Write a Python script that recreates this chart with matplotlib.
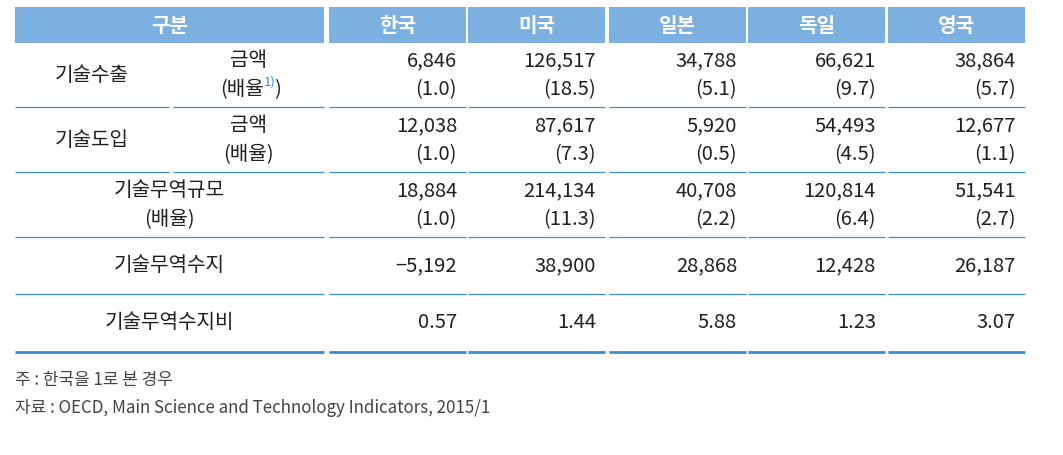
import matplotlib
matplotlib.use('Agg')
import matplotlib.pyplot as plt
from matplotlib.patches import Rectangle

plt.rcParams['font.family'] = ['Noto Sans CJK KR', 'DejaVu Sans']

# data
countries = ["한국", "미국", "일본", "독일", "영국"]
export_amt = ["6,846", "126,517", "34,788", "66,621", "38,864"]
export_ratio = ["(1.0)", "(18.5)", "(5.1)", "(9.7)", "(5.7)"]
import_amt = ["12,038", "87,617", "5,920", "54,493", "12,677"]
import_ratio = ["(1.0)", "(7.3)", "(0.5)", "(4.5)", "(1.1)"]
trade_size = ["18,884", "214,134", "40,708", "120,814", "51,541"]
trade_ratio = ["(1.0)", "(11.3)", "(2.2)", "(6.4)", "(2.7)"]
balance = ["\u22125,192", "38,900", "28,868", "12,428", "26,187"]
balance_ratio = ["0.57", "1.44", "5.88", "1.23", "3.07"]
notes = ["주 : 한국을 1로 본 경우",
         "자료 : OECD, Main Science and Technology Indicators, 2015/1"]

HEAD = "#7bb0e1"
LINE = "#3a8ed4"
TXT = "#231f20"
FS = 14.5

fig = plt.figure(figsize=(10.63, 4.55), dpi=100)
ax = fig.add_axes([0, 0, 1, 1])
ax.set_xlim(0, 1063)
ax.set_ylim(455, 0)
ax.axis('off')

# column layout (pixels)
gubun = (15, 324)
sub_left = (15, 169)
sub_right = (173, 324)
col_x0 = [329, 468, 609, 748, 888]
col_w = 137
rows = [(43, 107), (107, 172), (172, 237), (237, 294), (294, 352)]
DY = 14.5

# header
ax.add_patch(Rectangle((gubun[0], 7), gubun[1] - gubun[0], 36, color=HEAD, lw=0))
ax.text(sum(gubun) / 2, 25, "구분", color="white", fontsize=FS, fontweight="bold",
        ha="center", va="center")
for x0, c in zip(col_x0, countries):
    ax.add_patch(Rectangle((x0, 7), col_w, 36, color=HEAD, lw=0))
    ax.text(x0 + col_w / 2, 25, c, color="white", fontsize=FS, fontweight="bold",
            ha="center", va="center")

# horizontal rules
for i, (top, bot) in enumerate(rows):
    lw = 2.0 if i == len(rows) - 1 else 0.9
    if i < 2:
        ax.plot(sub_left, [bot, bot], color=LINE, lw=lw, solid_capstyle='butt')
        ax.plot(sub_right, [bot, bot], color=LINE, lw=lw, solid_capstyle='butt')
    else:
        ax.plot(gubun, [bot, bot], color=LINE, lw=lw, solid_capstyle='butt')
    for x0 in col_x0:
        ax.plot([x0, x0 + col_w], [bot, bot], color=LINE, lw=lw, solid_capstyle='butt')

def two_line(y0, y1, top_vals, bot_vals):
    c = (y0 + y1) / 2 + 0.5
    for x0, a, b in zip(col_x0, top_vals, bot_vals):
        ax.text(x0 + col_w - 9, c - DY, a, fontsize=FS, color=TXT, ha="right", va="center")
        ax.text(x0 + col_w - 9, c + DY, b, fontsize=FS, color=TXT, ha="right", va="center")

# row 1: 기술수출
c1 = sum(rows[0]) / 2 + 0.5
ax.text(sum(sub_left) / 2, c1, "기술수출", fontsize=FS, color=TXT, ha="center", va="center")
ax.text(sum(sub_right) / 2, c1 - DY, "금액", fontsize=FS, color=TXT, ha="center", va="center")
t = ax.text(sum(sub_right) / 2 - 7, c1 + DY, "(배율", fontsize=FS, color=TXT, ha="center", va="center")
sup = ax.annotate("1)", xy=(1, 0.55), xycoords=t, xytext=(0.5, 0), textcoords="offset points",
                  fontsize=9.5, color=LINE, va="bottom", ha="left")
ax.annotate(")", xy=(1, 0), xycoords=(sup, t), xytext=(-1.5, 0), textcoords="offset points",
            fontsize=FS, color=TXT, va="bottom", ha="left", annotation_clip=False)
two_line(*rows[0], export_amt, export_ratio)

# row 2: 기술도입
c2 = sum(rows[1]) / 2 + 0.5
ax.text(sum(sub_left) / 2, c2, "기술도입", fontsize=FS, color=TXT, ha="center", va="center")
ax.text(sum(sub_right) / 2, c2 - DY, "금액", fontsize=FS, color=TXT, ha="center", va="center")
ax.text(sum(sub_right) / 2, c2 + DY, "(배율)", fontsize=FS, color=TXT, ha="center", va="center")
two_line(*rows[1], import_amt, import_ratio)

# row 3: 기술무역규모
c3 = sum(rows[2]) / 2 + 0.5
ax.text(sum(gubun) / 2, c3 - DY, "기술무역규모", fontsize=FS, color=TXT, ha="center", va="center")
ax.text(sum(gubun) / 2, c3 + DY, "(배율)", fontsize=FS, color=TXT, ha="center", va="center")
two_line(*rows[2], trade_size, trade_ratio)

# rows 4, 5
for (top, bot), label, vals in [(rows[3], "기술무역수지", balance),
                                (rows[4], "기술무역수지비", balance_ratio)]:
    c = (top + bot) / 2
    ax.text(sum(gubun) / 2, c, label, fontsize=FS, color=TXT, ha="center", va="center")
    for x0, v in zip(col_x0, vals):
        ax.text(x0 + col_w - 9, c, v, fontsize=FS, color=TXT, ha="right", va="center")

# footnotes
for y, n in zip([380, 408], notes):
    ax.text(15, y, n, fontsize=12.2, color="#444444", ha="left", va="center")

fig.savefig("out.png", dpi=100)
